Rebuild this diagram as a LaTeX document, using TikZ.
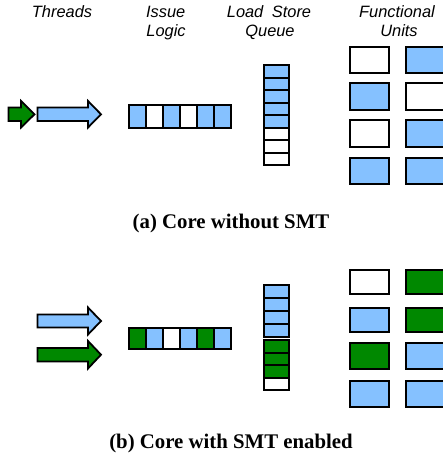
\documentclass[tikz,border=0pt]{standalone}
\usepackage{fontspec}
\newfontfamily\hdrfont{Liberation Sans}
\newfontfamily\capfont{Liberation Serif}
\definecolor{cblue}{RGB}{133,193,255}
\definecolor{cgreen}{RGB}{0,136,0}
\begin{document}
\begin{tikzpicture}[x=1pt,y=-1pt,
  cell/.style={draw=black, line width=2pt, inner sep=0pt, outer sep=0pt, anchor=north west},
  hdr/.style={font=\hdrfont\itshape\fontsize{16.4}{18}\selectfont, inner sep=0pt, anchor=base},
  captext/.style={font=\capfont\bfseries\fontsize{20.8}{22}\selectfont, inner sep=0pt, anchor=base},
  blockarrow/.style={draw=black, line width=1.8pt, line join=miter}]
\useasboundingbox (0,0) rectangle (443,455);

% headers
\node[hdr] (thr) at (62,17.3) {Threads};
\node[hdr] (iss1) at (165.7,17.3) {Issue};
\node[hdr] (iss2) at (166,36.6) {Logic};
\node[hdr] (lsq1) at (269,17.3) {Load\hspace{4pt} Store};
\node[hdr] (lsq2) at (270,36.6) {Queue};
\node[hdr] (fu1) at (397,17.3) {Functional};
\node[hdr] (fu2) at (399,36.6) {Units};

% ---------- (a) ----------
% thread arrows
\draw[blockarrow, fill=cgreen] (8.5,107.5) -- (21,107.5) -- (21,101) -- (34.5,114.3) -- (21,127.5) -- (21,121) -- (8.5,121) -- cycle;
\draw[blockarrow, fill=cblue] (37.5,107.5) -- (88,107.5) -- (88,101) -- (101,114.3) -- (88,127.5) -- (88,121) -- (37.5,121) -- cycle;

% issue logic
\foreach \c [count=\i from 0] in {cblue,white,cblue,white,cblue,cblue}
  \node[cell, fill=\c, minimum width=16.9pt, minimum height=22.4pt] (ia\i) at (129.2+16.9*\i,105.2) {};

% load store queue
\foreach \c [count=\i from 0] in {cblue,cblue,cblue,cblue,cblue,white,white,white}
  \node[cell, fill=\c, minimum width=25pt, minimum height=12.5pt] (qa\i) at (263.5,65.1+12.5*\i) {};

% functional units
\node[cell, fill=white, minimum width=38.4pt, minimum height=25.7pt] (fa1) at (350.2,46.9) {};
\node[cell, fill=cblue, minimum width=38.4pt, minimum height=25.7pt] (fa2) at (405.9,46.9) {};
\node[cell, fill=cblue, minimum width=38.4pt, minimum height=27pt] (fa3) at (350.2,82.6) {};
\node[cell, fill=white, minimum width=38.4pt, minimum height=27pt] (fa4) at (405.9,82.6) {};
\node[cell, fill=white, minimum width=38.4pt, minimum height=27pt] (fa5) at (350.2,120.2) {};
\node[cell, fill=cblue, minimum width=38.4pt, minimum height=27pt] (fa6) at (405.9,120.2) {};
\node[cell, fill=cblue, minimum width=38.4pt, minimum height=25.5pt] (fa7) at (350.2,158.2) {};
\node[cell, fill=cblue, minimum width=38.4pt, minimum height=25.5pt] (fa8) at (405.9,158.2) {};

\node[captext] (capa) at (231,228.5) {(a) Core without SMT};

% ---------- (b) ----------
\draw[blockarrow, fill=cblue] (37.5,314.5) -- (88,314.5) -- (88,307.5) -- (101,321) -- (88,334.5) -- (88,327.5) -- (37.5,327.5) -- cycle;
\draw[blockarrow, fill=cgreen] (37.5,348) -- (88,348) -- (88,341) -- (101,354.7) -- (88,368.5) -- (88,361.5) -- (37.5,361.5) -- cycle;

\foreach \c [count=\i from 0] in {cgreen,cblue,white,cblue,cgreen,cblue}
  \node[cell, fill=\c, minimum width=16.9pt, minimum height=21.8pt] (ib\i) at (129.2+16.9*\i,327.6) {};

\foreach \c [count=\i from 0] in {cblue,cblue,cblue,cblue}
  \node[cell, fill=\c, minimum width=25pt, minimum height=12.9pt] (qb\i) at (263.5,285.1+12.9*\i) {};
\foreach \c [count=\i from 0] in {cgreen,cgreen,cgreen,white}
  \node[cell, fill=\c, minimum width=25pt, minimum height=12.5pt] (qc\i) at (263.5,340.1+12.5*\i) {};

\node[cell, fill=white, minimum width=38.4pt, minimum height=24.4pt] (fb1) at (350.2,269.8) {};
\node[cell, fill=cgreen, minimum width=38.4pt, minimum height=24.4pt] (fb2) at (405.9,269.8) {};
\node[cell, fill=cblue, minimum width=38.4pt, minimum height=24.4pt] (fb3) at (350.2,307.5) {};
\node[cell, fill=cgreen, minimum width=38.4pt, minimum height=24.4pt] (fb4) at (405.9,307.5) {};
\node[cell, fill=cgreen, minimum width=38.4pt, minimum height=26.2pt] (fb5) at (350.2,343.1) {};
\node[cell, fill=cblue, minimum width=38.4pt, minimum height=26.2pt] (fb6) at (405.9,343.1) {};
\node[cell, fill=cblue, minimum width=38.4pt, minimum height=26.5pt] (fb7) at (350.2,380.8) {};
\node[cell, fill=cblue, minimum width=38.4pt, minimum height=26.5pt] (fb8) at (405.9,380.8) {};

\node[captext] (capb) at (231,448.3) {(b) Core with SMT enabled};
\end{tikzpicture}
\end{document}
